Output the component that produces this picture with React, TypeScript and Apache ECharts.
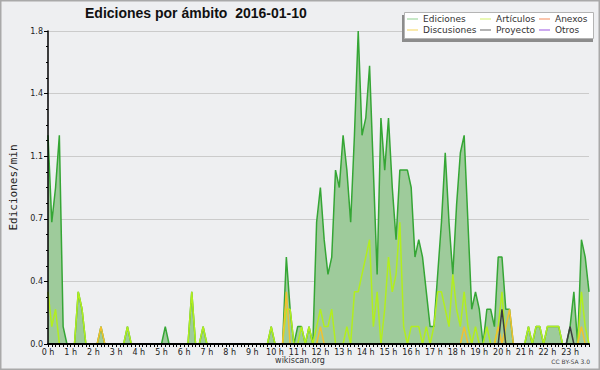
import React, { useEffect, useRef } from "react";
import * as echarts from "echarts";

// 10-minute buckets, 0:00 .. 23:50
const times: string[] = [];
for (let h = 0; h < 24; h++) {
  for (let m = 0; m < 60; m += 10) times.push(`${h}:${m === 0 ? "00" : m}`);
}

// Edits per minute, one row per hour (6 x 10 min)
const ediciones = [
  1.2, 0.7, 0.9, 1.2, 0.1, 0,
  0, 0, 0.3, 0.2, 0, 0,
  0, 0, 0.1, 0, 0, 0,
  0, 0, 0, 0.1, 0, 0,
  0, 0, 0, 0, 0, 0,
  0, 0.1, 0, 0, 0, 0,
  0, 0, 0.3, 0, 0, 0.1,
  0, 0, 0, 0, 0, 0,
  0, 0, 0, 0, 0, 0,
  0, 0, 0, 0, 0, 0.1,
  0, 0, 0, 0.5, 0.2, 0,
  0.1, 0.1, 0, 0.1, 0, 0.7,
  0.9, 0.6, 0.4, 0.5, 1.0, 0.9,
  1.2, 1.0, 0.7, 1.2, 1.8, 1.2,
  1.3, 1.6, 1.0, 0.4, 1.3, 1.0,
  1.3, 0.9, 0.6, 1.0, 1.0, 1.0,
  0.9, 0.5, 0.6, 0.5, 0.3, 0.1,
  0.1, 0.4, 0.7, 1.1, 0.7, 0.4,
  0.8, 1.1, 1.2, 0.7, 0.2, 0.3,
  0.2, 0, 0.2, 0.2, 0.1, 0.5,
  0.5, 0.2, 0.2, 0, 0, 0,
  0, 0.1, 0, 0.1, 0.1, 0,
  0.1, 0.1, 0.1, 0.1, 0, 0,
  0.1, 0.3, 0, 0.6, 0.5, 0.3,
];

const articulos = [
  0.3, 0.1, 0.2, 0, 0, 0,
  0, 0, 0.3, 0.2, 0, 0,
  0, 0, 0, 0, 0, 0,
  0, 0, 0, 0.1, 0, 0,
  0, 0, 0, 0, 0, 0,
  0, 0, 0, 0, 0, 0,
  0, 0, 0.3, 0, 0, 0.1,
  0, 0, 0, 0, 0, 0,
  0, 0, 0, 0, 0, 0,
  0, 0, 0, 0, 0, 0.1,
  0, 0, 0, 0.2, 0.2, 0,
  0, 0.1, 0, 0.1, 0, 0.1,
  0.2, 0.1, 0.1, 0.2, 0, 0,
  0, 0.1, 0, 0.3, 0.3, 0.4,
  0.5, 0.6, 0.1, 0.3, 0, 0.2,
  0.5, 0.3, 0.4, 0.7, 0.1, 0,
  0.1, 0.1, 0.1, 0, 0.1, 0,
  0.1, 0.3, 0.3, 0.2, 0.1, 0.4,
  0.2, 0.1, 0.3, 0.1, 0, 0.1,
  0, 0, 0.1, 0, 0, 0.1,
  0.3, 0, 0, 0, 0, 0,
  0, 0.1, 0, 0.1, 0.1, 0,
  0.1, 0.1, 0.1, 0.1, 0, 0,
  0, 0, 0, 0.3, 0.1, 0,
];

const discusiones = [
  0, 0, 0, 0, 0, 0,
  0, 0, 0, 0, 0, 0,
  0, 0, 0.1, 0, 0, 0,
  0, 0, 0, 0, 0, 0,
  0, 0, 0, 0, 0, 0,
  0, 0, 0, 0, 0, 0,
  0, 0, 0, 0, 0, 0,
  0, 0, 0, 0, 0, 0,
  0, 0, 0, 0, 0, 0,
  0, 0, 0, 0, 0, 0,
  0, 0, 0, 0.3, 0, 0,
  0, 0, 0, 0, 0, 0,
  0.1, 0, 0, 0, 0, 0,
  0, 0, 0, 0, 0, 0,
  0, 0, 0, 0, 0, 0,
  0, 0, 0, 0, 0, 0,
  0, 0, 0, 0, 0, 0,
  0, 0, 0, 0, 0, 0,
  0, 0, 0.1, 0, 0, 0,
  0, 0, 0, 0, 0, 0.1,
  0, 0.1, 0.2, 0, 0, 0,
  0, 0, 0, 0, 0, 0,
  0, 0, 0, 0, 0, 0,
  0, 0, 0, 0.1, 0, 0,
];

const proyecto = [
  0, 0, 0, 0, 0, 0,
  0, 0, 0, 0, 0, 0,
  0, 0, 0, 0, 0, 0,
  0, 0, 0, 0, 0, 0,
  0, 0, 0, 0, 0, 0,
  0, 0, 0, 0, 0, 0,
  0, 0, 0, 0, 0, 0,
  0, 0, 0, 0, 0, 0,
  0, 0, 0, 0, 0, 0,
  0, 0, 0, 0, 0, 0,
  0, 0, 0, 0, 0, 0,
  0, 0, 0, 0, 0, 0,
  0, 0, 0, 0, 0, 0,
  0, 0, 0, 0, 0, 0,
  0, 0, 0, 0, 0, 0,
  0, 0, 0, 0, 0, 0,
  0, 0, 0, 0, 0, 0,
  0, 0, 0, 0, 0, 0,
  0, 0, 0, 0, 0, 0,
  0, 0, 0, 0, 0, 0,
  0.2, 0, 0, 0, 0, 0,
  0, 0, 0, 0, 0, 0,
  0, 0, 0, 0, 0, 0,
  0.1, 0, 0, 0, 0, 0,
];

const anexos: number[] = new Array(144).fill(0);
const otros: number[] = new Array(144).fill(0);

const Y_MAX = 1.8;
const Y_STEP = 0.36;

const FONT = '"DejaVu Sans", sans-serif';

export default function App() {
  const ref = useRef<HTMLDivElement>(null);

  useEffect(() => {
    document.body.style.margin = "0";
    if (!ref.current) return;
    const chart = echarts.init(ref.current, null, { renderer: "svg" });

    const lineSeries = (name: string, data: number[], color: string, extra: any = {}) => ({
      name,
      type: "line",
      data,
      showSymbol: false,
      symbol: "none",
      color,
      lineStyle: { color, width: 1.5 },
      emphasis: { disabled: true },
      ...extra,
    });

    const legendBase = {
      orient: "vertical",
      top: 14,
      itemGap: 1,
      itemWidth: 11,
      itemHeight: 1,
      icon: "rect",
      padding: 0,
      selectedMode: false,
      z: 5,
      textStyle: { fontFamily: FONT, fontSize: 9, color: "#333", lineHeight: 10 },
    };

    chart.setOption({
      animation: false,
      backgroundColor: "#eeeff1",
      title: {
        text: "Ediciones por ámbito  2016-01-10",
        left: 85,
        top: 6,
        padding: 0,
        textStyle: {
          fontFamily: '"Liberation Sans", Arial, sans-serif',
          fontWeight: "bold",
          fontSize: 14,
          color: "#111",
        },
      },
      legend: [
        {
          ...legendBase,
          left: 407,
          data: [
            { name: "Ediciones", itemStyle: { color: "#8fd18f" } },
            { name: "Discusiones", itemStyle: { color: "#f5d55a" } },
          ],
        },
        {
          ...legendBase,
          left: 480,
          data: [
            { name: "Artículos", itemStyle: { color: "#d2f06a" } },
            { name: "Proyecto", itemStyle: { color: "#666666" } },
          ],
        },
        {
          ...legendBase,
          left: 539,
          data: [
            { name: "Anexos", itemStyle: { color: "#f58a5a" } },
            { name: "Otros", itemStyle: { color: "#9a55e0" } },
          ],
        },
      ],
      grid: { left: 45, right: 11, top: 31, bottom: 26 },
      xAxis: {
        type: "category",
        data: times,
        boundaryGap: false,
        z: 6,
        axisLine: { lineStyle: { color: "#000", width: 2 } },
        axisTick: { interval: 0, length: 3, lineStyle: { color: "#000" } },
        axisLabel: {
          interval: 5,
          margin: 4,
          fontFamily: FONT,
          fontSize: 8,
          color: "#222",
          formatter: (v: string) => `${v.split(":")[0]} h`,
        },
        splitLine: { show: false },
      },
      yAxis: [
        {
          type: "value",
          min: 0,
          max: Y_MAX,
          interval: Y_STEP,
          axisLine: { show: false },
          axisTick: { show: false },
          axisLabel: { show: false },
          splitLine: { show: true, lineStyle: { color: "#cbcbcb", width: 1 } },
        },
        {
          type: "value",
          min: 0,
          max: Y_MAX,
          interval: Y_STEP,
          position: "left",
          z: 6,
          name: "Ediciones/min",
          nameLocation: "middle",
          nameRotate: 90,
          nameGap: 29,
          nameTextStyle: { fontFamily: '"DejaVu Sans Mono", monospace', fontSize: 11, color: "#222" },
          axisLine: { show: true, lineStyle: { color: "#000", width: 1.5 } },
          axisTick: { show: true, length: 4, lineStyle: { color: "#000" } },
          minorTick: { show: true, splitNumber: 4, length: 2, lineStyle: { color: "#000" } },
          axisLabel: {
            margin: 5,
            fontFamily: FONT,
            fontSize: 8,
            color: "#222",
            formatter: (v: number) => v.toFixed(1),
          },
          splitLine: { show: false },
        },
      ],
      series: [
        lineSeries("Ediciones", ediciones, "#35a635", {
          areaStyle: { color: "#9ecb9b", opacity: 1 },
        }),
        lineSeries("Artículos", articulos, "#b2ee1e"),
        lineSeries("Anexos", anexos, "#f0804a"),
        lineSeries("Discusiones", discusiones, "#f2c12e"),
        lineSeries("Proyecto", proyecto, "#3d3d3d"),
        lineSeries("Otros", otros, "#9955dd"),
      ],
      graphic: [
        {
          type: "rect",
          silent: true,
          z: 3,
          shape: { x: 402, y: 15, width: 191, height: 27 },
          style: { fill: "#8c8c8c" },
        },
        {
          type: "rect",
          silent: true,
          z: 3,
          shape: { x: 404.5, y: 12.5, width: 189, height: 26 },
          style: { fill: "#ffffff", stroke: "#b4b4b4", lineWidth: 1 },
        },
        {
          type: "text",
          silent: true,
          x: 300,
          y: 360,
          style: {
            text: "wikiscan.org",
            fill: "#333",
            fontFamily: FONT,
            fontSize: 8,
            align: "center",
            verticalAlign: "middle",
          },
        },
        {
          type: "text",
          silent: true,
          x: 590,
          y: 361.5,
          style: {
            text: "CC BY-SA 3.0",
            fill: "#444",
            fontFamily: FONT,
            fontSize: 6,
            align: "right",
            verticalAlign: "middle",
          },
        },
        {
          type: "rect",
          silent: true,
          z: 10,
          shape: { x: 0.5, y: 0.5, width: 599, height: 369 },
          style: { fill: "none", stroke: "#a9a9a9", lineWidth: 2 },
        },
      ],
    });

    return () => chart.dispose();
  }, []);

  return <div ref={ref} style={{ width: 600, height: 370 }} />;
}
